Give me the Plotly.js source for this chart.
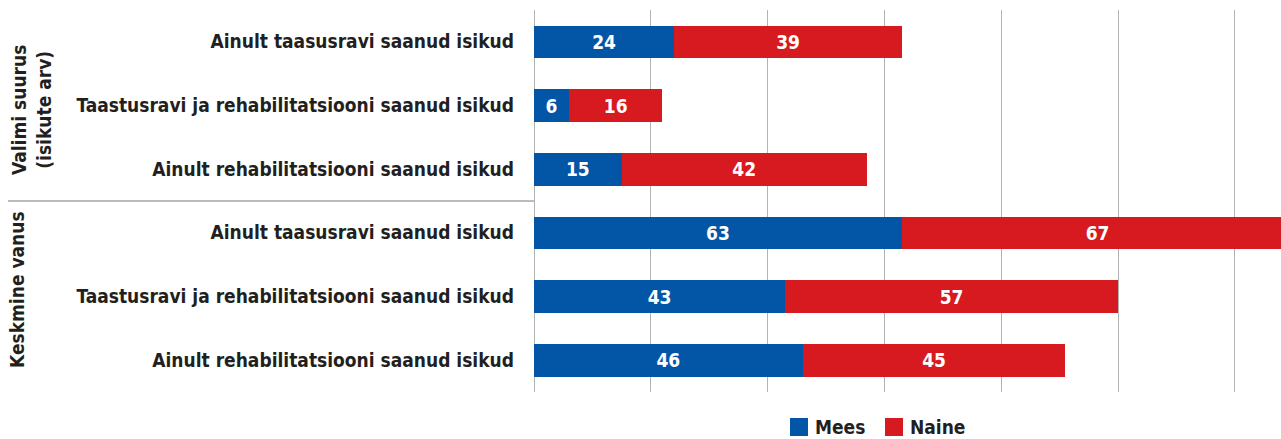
<!DOCTYPE html>
<html>
<head>
<meta charset="utf-8">
<script src="https://cdn.plot.ly/plotly-3.0.1.min.js"></script>
<style>
  html, body { margin: 0; padding: 0; background: #ffffff; }
  #chart { width: 1281px; height: 439px; }
</style>
</head>
<body>
<div id="chart"></div>
<script>
// Group headings (drawn rotated on the far left) and the row labels inside each group
const groups = ['Valimi suurus<br>(isikute arv)', 'Keskmine vanus'];
const categories = [
  'Ainult taasusravi saanud isikud',
  'Taastusravi ja rehabilitatsiooni saanud isikud',
  'Ainult rehabilitatsiooni saanud isikud'
];

// Series values, one entry per row (group 1 rows, then group 2 rows)
const seriesNames = ['Mees', 'Naine'];
const mees  = [24, 6, 15, 63, 43, 46];
const naine = [39, 16, 42, 67, 57, 45];

const colors = ['#0356a6', '#d71920'];
const textColor = '#231f20';
const gridColor = '#b3b3b3';
const FONT = "'DejaVu Sans Condensed', 'Liberation Sans Narrow', 'DejaVu Sans', sans-serif";

// Row positions and labels: every group repeats the same three categories
const rowPos = [];
const rowText = [];
groups.forEach((g, gi) => {
  categories.forEach((c, ci) => {
    rowPos.push(gi * categories.length + ci);
    rowText.push(c);
  });
});

const W = 1281, H = 439;
const M = { l: 534, r: 0, t: 10, b: 47 };
const plotW = W - M.l - M.r;
const plotH = H - M.t - M.b;
// helpers for placing decorations outside the plot area in pixel terms
const px = x => (x - M.l) / plotW;
const py = y => (H - M.b - y) / plotH;

const values = [mees, naine];
const traces = values.map((vals, i) => ({
  type: 'bar',
  orientation: 'h',
  name: seriesNames[i],
  y: rowPos,
  x: vals,
  marker: { color: colors[i], line: { width: 0 } },
  text: vals.map(String),
  textposition: 'inside',
  insidetextanchor: 'middle',
  textangle: 0,
  constraintext: 'none',
  textfont: { family: FONT, size: 19, color: '#ffffff', weight: 'bold' },
  hoverinfo: 'skip',
  showlegend: false
}));

const annotations = [
  {
    xref: 'paper', yref: 'paper', x: px(31), y: py(110),
    text: groups[0], textangle: -90, showarrow: false,
    xanchor: 'center', yanchor: 'middle',
    font: { family: FONT, size: 19, color: textColor, weight: 'bold' }
  },
  {
    xref: 'paper', yref: 'paper', x: px(17), y: py(290),
    text: groups[1], textangle: -90, showarrow: false,
    xanchor: 'center', yanchor: 'middle',
    font: { family: FONT, size: 19, color: textColor, weight: 'bold' }
  }
];

const shapes = [
  // divider between the two groups
  {
    type: 'line', xref: 'paper', yref: 'y',
    x0: px(8), x1: 0, y0: categories.length - 0.5, y1: categories.length - 0.5,
    line: { color: '#a6a6a6', width: 1.5 }
  }
];

// legend: colour squares with the series names beside them
const legendX = [790, 885];
const legendY = 427;
seriesNames.forEach((name, i) => {
  shapes.push({
    type: 'rect', xref: 'paper', yref: 'paper',
    x0: px(legendX[i]), x1: px(legendX[i] + 18),
    y0: py(legendY - 9), y1: py(legendY + 9),
    fillcolor: colors[i], line: { width: 0 }
  });
  annotations.push({
    xref: 'paper', yref: 'paper', x: px(legendX[i] + 24), y: py(legendY),
    text: name, showarrow: false, xanchor: 'left', yanchor: 'middle',
    borderpad: 0,
    font: { family: FONT, size: 19, color: textColor, weight: 'bold' }
  });
});

const layout = {
  width: W, height: H,
  margin: M,
  paper_bgcolor: '#ffffff',
  plot_bgcolor: '#ffffff',
  barmode: 'stack',
  bargap: 0.487,
  showlegend: false,
  xaxis: {
    range: [0, 127.9],
    dtick: 20, tick0: 0,
    showticklabels: false,
    ticks: '',
    showgrid: true, gridcolor: gridColor, gridwidth: 1,
    zeroline: true, zerolinecolor: gridColor, zerolinewidth: 1,
    showline: false, fixedrange: true
  },
  yaxis: {
    range: [rowPos.length - 0.5, -0.5],
    tickmode: 'array',
    tickvals: rowPos,
    ticktext: rowText,
    ticks: '',
    ticklabelstandoff: 19,
    tickfont: { family: FONT, size: 19, color: textColor, weight: 'bold' },
    showgrid: false, zeroline: false, showline: false, fixedrange: true
  },
  annotations: annotations,
  shapes: shapes
};

Plotly.newPlot('chart', traces, layout, { displayModeBar: false, staticPlot: true });
</script>
</body>
</html>
